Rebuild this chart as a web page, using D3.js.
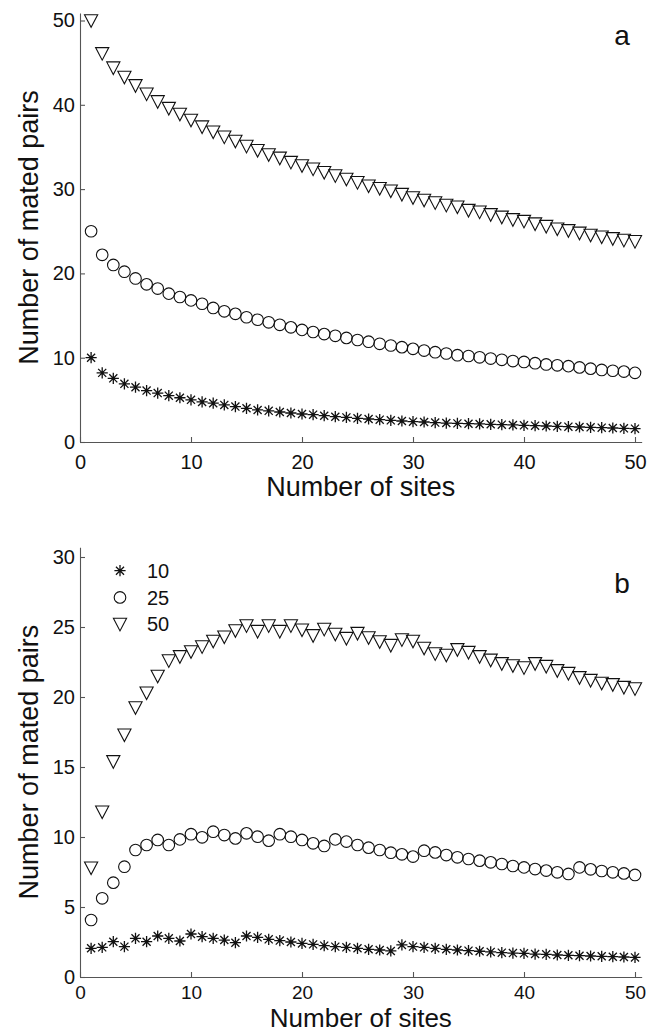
<!DOCTYPE html>
<html><head><meta charset="utf-8">
<script src="https://cdn.jsdelivr.net/npm/d3@7"></script>
<style>body{margin:0;background:#fff}text{font-family:"Liberation Sans",Arial,Helvetica,sans-serif;fill:#111}</style>
</head><body>
<svg id="chart" width="664" height="1033"></svg>
<script>
const sites = d3.range(1, 51);
const xTicks = [0, 10, 20, 30, 40, 50];
const aTicks = [0, 10, 20, 30, 40, 50];
const bTicks = [0, 5, 10, 15, 20, 25, 30];
const legendLabels = ["10", "25", "50"];

// panel a
const aPairs10 = [10,8.2,7.55,6.9,6.5,6.1,5.8,5.5,5.25,5.0, 4.75,4.6,4.4,4.2,4.0,3.8,3.7,3.56,3.44,3.32, 3.24,3.12,3.0,2.92,2.81,2.73,2.65,2.57,2.49,2.41, 2.37,2.3,2.25,2.21,2.17,2.14,2.1,2.06,2.02,1.98, 1.94,1.9,1.86,1.82,1.78,1.74,1.7,1.66,1.62,1.58];
const aPairs25 = [25,22.2,21.0,20.2,19.4,18.7,18.2,17.6,17.2,16.8, 16.4,15.9,15.5,15.2,14.8,14.5,14.2,13.9,13.6,13.3, 13.05,12.8,12.6,12.35,12.1,11.9,11.65,11.45,11.25,11.05, 10.85,10.65,10.5,10.3,10.2,10.05,9.9,9.75,9.6,9.5, 9.35,9.2,9.1,9.0,8.85,8.7,8.55,8.45,8.35,8.2];
const aPairs50 = [50,46.1,44.4,43.3,42.3,41.3,40.4,39.6,38.9,38.2, 37.4,36.8,36.2,35.7,35.1,34.6,34.1,33.7,33.2,32.8, 32.4,32.0,31.6,31.2,30.8,30.4,30.1,29.8,29.4,29.0, 28.7,28.4,28.1,27.9,27.5,27.3,27.0,26.7,26.4,26.2, 25.9,25.6,25.3,25.1,24.8,24.55,24.35,24.15,23.95,23.8];

// panel b
const bPairs10 = [2.05,2.12,2.52,2.17,2.76,2.52,2.93,2.76,2.57,3.07, 2.88,2.76,2.64,2.45,2.93,2.83,2.69,2.6,2.5,2.4, 2.33,2.24,2.17,2.12,2.05,1.98,1.93,1.86,2.29,2.17, 2.12,2.05,1.98,1.93,1.88,1.84,1.79,1.74,1.71,1.69, 1.64,1.62,1.57,1.55,1.52,1.5,1.48,1.45,1.43,1.4];
const bPairs25 = [4.07,5.62,6.74,7.88,9.07,9.43,9.79,9.43,9.83,10.2, 9.98,10.38,10.14,9.9,10.26,10.02,9.74,10.2,10.02,9.79, 9.55,9.36,9.83,9.67,9.43,9.24,9.07,8.88,8.76,8.6, 9.02,8.9,8.71,8.55,8.43,8.31,8.19,8.07,7.93,7.83, 7.71,7.6,7.48,7.36,7.83,7.69,7.57,7.48,7.4,7.29];
const bPairs50 = [7.8,11.8,15.4,17.3,19.25,20.3,21.5,22.6,22.9,23.25, 23.6,24.0,24.3,24.75,25.1,24.7,25.1,24.7,25.1,24.8, 24.4,24.85,24.5,24.2,24.56,24.25,23.96,23.7,24.1,24.0, 23.5,23.1,23.0,23.4,23.2,22.9,22.65,22.4,22.25,22.1, 22.4,22.2,21.9,21.7,21.4,21.2,21.0,20.9,20.7,20.6];

const svg = d3.select("#chart");

const x = d3.scaleLinear().domain([0, 50.6]).range([80, 80 + 50.6 * 11.1]);

const panels = [
  {y: d3.scaleLinear().domain([0, 50.9]).range([442, 442 - 50.9 * 8.43]), ticks: aTicks,
   series: [aPairs10, aPairs25, aPairs50], letter: "a", letterY: 45, legend: false,
   tickOff: 27, labOff: 54, xTickFont: 20, labFont: 27},
  {y: d3.scaleLinear().domain([0, 30.7]).range([977, 977 - 30.7 * 14]), ticks: bTicks,
   series: [bPairs10, bPairs25, bPairs50], letter: "b", letterY: 593, legend: true,
   tickOff: 22, labOff: 50, xTickFont: 19, labFont: 26}
];

function asterisk(r) {
  const d = r * 0.72;
  return `M${-r},0L${r},0M0,${-r}L0,${r}M${-d},${-d}L${d},${d}M${-d},${d}L${d},${-d}`;
}
function triDown(w, h) {
  return `M${-w},${-h * 0.46}L${w},${-h * 0.46}L0,${h * 0.54}Z`;
}
const markerPaths = [asterisk(5.6), null, triDown(6.6, 12.6)];

function drawMarker(g, k, cx, cy) {
  if (k === 1) {
    g.append("circle").attr("cx", cx).attr("cy", cy).attr("r", 5.8)
      .attr("fill", "none").attr("stroke", "#111").attr("stroke-width", 1.1);
  } else {
    g.append("path").attr("d", markerPaths[k]).attr("transform", `translate(${cx},${cy})`)
      .attr("fill", "none").attr("stroke", "#111").attr("stroke-width", k === 0 ? 1.3 : 1.1)
      .attr("stroke-linejoin", "miter");
  }
}

panels.forEach(p => {
  const g = svg.append("g");
  const y0 = p.y.range()[0];

  // axes
  const xa = g.append("g").attr("transform", `translate(0,${y0})`)
    .call(d3.axisBottom(x).tickValues(xTicks).tickSizeInner(-5).tickSizeOuter(0));
  xa.selectAll(".tick text").attr("y", p.tickOff).attr("dy", null);
  const ya = g.append("g").attr("transform", `translate(${x(0)},0)`)
    .call(d3.axisLeft(p.y).tickValues(p.ticks).tickSizeInner(-5).tickSizeOuter(0).tickPadding(5));
  [xa, ya].forEach(a => {
    a.select(".domain").attr("stroke", "#555").attr("stroke-width", 1.1);
    a.selectAll(".tick line").attr("stroke", "#555").attr("stroke-width", 1.1);
    a.selectAll("text").attr("font-size", 20).attr("fill", "#111")
      .style("font-family", '"Liberation Sans",Arial,sans-serif');
  });
  xa.selectAll(".tick text").attr("font-size", p.xTickFont);

  // series
  p.series.forEach((vals, k) => {
    const sg = g.append("g");
    vals.forEach((v, i) => drawMarker(sg, k, x(sites[i]), p.y(v)));
  });

  // labels
  const xr = x.range();
  g.append("text").attr("x", (xr[0] + xr[1]) / 2).attr("y", y0 + p.labOff)
    .attr("text-anchor", "middle").attr("font-size", p.labFont).text("Number of sites");
  const yr = p.y.range();
  g.append("text").attr("transform", `translate(38,${(yr[0] + yr[1]) / 2}) rotate(-90)`)
    .attr("text-anchor", "middle").attr("font-size", 27).text("Number of mated pairs");
  g.append("text").attr("x", 622).attr("y", p.letterY).attr("text-anchor", "middle")
    .attr("font-size", 28).text(p.letter);

  if (p.legend) {
    const lg = g.append("g");
    legendLabels.forEach((lab, k) => {
      const cy = 570.7 + k * 26.7;
      drawMarker(lg, k, 120, cy);
      lg.append("text").attr("x", 147).attr("y", cy).attr("dy", "0.36em")
        .attr("font-size", 20).text(lab);
    });
  }
});
</script>
</body></html>
